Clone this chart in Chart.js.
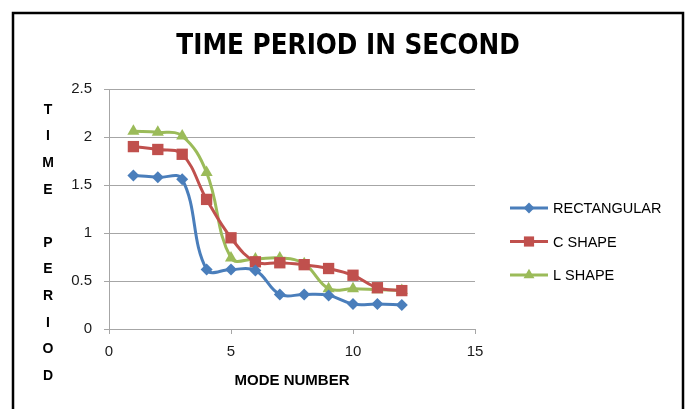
<!DOCTYPE html>
<html>
<head>
<meta charset="utf-8">
<script src="https://cdn.jsdelivr.net/npm/chart.js@4.4.1/dist/chart.umd.min.js"></script>
<style>
  html, body { margin: 0; padding: 0; background: #fff; }
  #wrap { width: 686px; height: 409px; }
</style>
</head>
<body>
<div id="wrap"><canvas id="chart" width="686" height="409"></canvas></div>
<script>
// Data
const modeNumbers = [1, 2, 3, 4, 5, 6, 7, 8, 9, 10, 11, 12]
const rectangular = [1.60, 1.58, 1.56, 0.62, 0.62, 0.61, 0.36, 0.36, 0.35, 0.26, 0.26, 0.25]
const cShape = [1.90, 1.87, 1.82, 1.35, 0.95, 0.70, 0.69, 0.67, 0.63, 0.56, 0.43, 0.40]
const lShape = [2.06, 2.05, 2.01, 1.63, 0.74, 0.73, 0.74, 0.68, 0.42, 0.42, 0.41, 0.40]
const seriesNames = ['RECTANGULAR', 'C SHAPE', 'L SHAPE']
const xTicks = [0, 5, 10, 15]
const xTickLabels = ['0', '5', '10', '15']
const yTicks = [0, 0.5, 1, 1.5, 2, 2.5]
const yTickLabels = ['0', '0.5', '1', '1.5', '2', '2.5']
const chartTitle = 'TIME PERIOD IN SECOND'
const yAxisLetters = ['T', 'I', 'M', 'E', '', 'P', 'E', 'R', 'I', 'O', 'D']

const toPoints = (values) => values.map((v, i) => ({ x: modeNumbers[i], y: v }))

const series = [
  { label: seriesNames[0], data: toPoints(rectangular), color: '#4a7ebb', style: 'rectRot', radius: 6 },
  { label: seriesNames[1], data: toPoints(cShape), color: '#c0504d', style: 'rect', radius: 8 },
  { label: seriesNames[2], data: toPoints(lShape), color: '#9bbb59', style: 'triangle', radius: 7 }
]

// White background, frame, title, stacked axis title and the legend
const decorations = {
  id: 'decorations',
  beforeDraw(chart) {
    const ctx = chart.ctx
    ctx.save()
    ctx.fillStyle = '#fff'
    ctx.fillRect(0, 0, chart.width, chart.height)
    ctx.strokeStyle = '#000'
    ctx.lineWidth = 2.5
    ctx.strokeRect(13, 13, 670, 430)
    ctx.restore()
  },
  afterDraw(chart) {
    const ctx = chart.ctx
    ctx.save()
    ctx.fillStyle = '#000'
    ctx.textAlign = 'center'
    ctx.textBaseline = 'middle'
    ctx.font = 'bold 27.5px "DejaVu Sans Condensed", "Liberation Sans", sans-serif'
    ctx.fillText(chartTitle, 348, 47)

    ctx.font = 'bold 14px "Liberation Sans", Arial, sans-serif'
    yAxisLetters.forEach((letter, i) => {
      ctx.fillText(letter, 48, 110 + i * 26.6)
    })

    ctx.font = '14.5px "Liberation Sans", Arial, sans-serif'
    ctx.textAlign = 'left'
    chart.data.datasets.forEach((ds, i) => {
      const y = 208 + i * 33.5
      ctx.strokeStyle = ds.borderColor
      ctx.lineWidth = 3
      ctx.beginPath()
      ctx.moveTo(510, y)
      ctx.lineTo(548, y)
      ctx.stroke()
      ctx.fillStyle = ds.pointBackgroundColor
      ctx.strokeStyle = ds.pointBorderColor
      Chart.helpers.drawPoint(ctx, {
        pointStyle: ds.pointStyle,
        radius: ds.pointRadius * 0.9,
        rotation: 0,
        borderWidth: 0
      }, 529, y)
      ctx.fillStyle = '#000'
      ctx.fillText(ds.label, 553, y + 1)
    })
    ctx.restore()
  }
}

const ctx = document.getElementById('chart').getContext('2d')

new Chart(ctx, {
  type: 'scatter',
  data: {
    datasets: series.map(s => ({
      label: s.label,
      data: s.data,
      showLine: true,
      borderColor: s.color,
      backgroundColor: s.color,
      borderWidth: 3,
      tension: 0.4,
      pointStyle: s.style,
      pointRadius: s.radius,
      pointHoverRadius: s.radius,
      pointBackgroundColor: s.color,
      pointBorderColor: s.color,
      pointBorderWidth: 0
    }))
  },
  options: {
    responsive: false,
    devicePixelRatio: 1,
    animation: false,
    layout: {
      padding: { left: 0, right: 211, top: 89, bottom: 0 }
    },
    plugins: {
      legend: { display: false },
      tooltip: { enabled: false },
      title: { display: false }
    },
    scales: {
      x: {
        type: 'linear',
        min: 0,
        max: 15,
        afterBuildTicks: (scale) => { scale.ticks = xTicks.map(v => ({ value: v })) },
        afterFit: (scale) => { scale.height = 80 },
        border: { color: '#a6a6a6', width: 1 },
        grid: {
          drawOnChartArea: false,
          drawTicks: true,
          tickLength: 5,
          color: '#a6a6a6'
        },
        ticks: {
          color: '#1a1a1a',
          padding: 9,
          callback: (value) => xTickLabels[xTicks.indexOf(value)],
          font: { family: '"Liberation Sans", Arial, sans-serif', size: 15 }
        },
        title: {
          display: true,
          text: 'MODE NUMBER',
          color: '#000',
          font: { family: '"Liberation Sans", Arial, sans-serif', size: 15, weight: 'bold' },
          padding: { top: 0, bottom: 19 }
        }
      },
      y: {
        type: 'linear',
        min: 0,
        max: 2.5,
        afterBuildTicks: (scale) => { scale.ticks = yTicks.map(v => ({ value: v })) },
        afterFit: (scale) => { scale.width = 109 },
        border: { color: '#a6a6a6', width: 1 },
        grid: {
          color: '#a6a6a6',
          drawTicks: true,
          tickLength: 5
        },
        ticks: {
          color: '#1a1a1a',
          padding: 12,
          callback: (value) => yTickLabels[yTicks.indexOf(value)],
          font: { family: '"Liberation Sans", Arial, sans-serif', size: 15 }
        }
      }
    }
  },
  plugins: [decorations]
})
</script>
</body>
</html>
